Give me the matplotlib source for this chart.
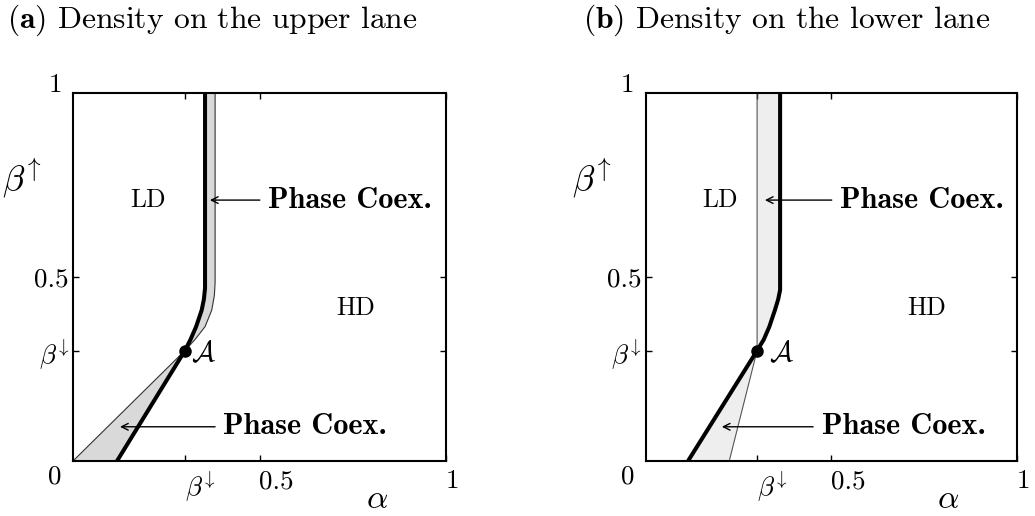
import numpy as np
import matplotlib
matplotlib.use("Agg")
import matplotlib.pyplot as plt

plt.rcParams['font.family'] = 'serif'
plt.rcParams['font.serif'] = ['cmr10']
plt.rcParams['mathtext.fontset'] = 'cm'
plt.rcParams['axes.formatter.use_mathtext'] = True

# ---- data ----
beta_down = 0.3
# panel (a): upper lane
thick_a_x = [0.118, 0.300, 0.315, 0.330, 0.345, 0.351, 0.354, 0.354]
thick_a_y = [0.000, 0.300, 0.330, 0.365, 0.410, 0.440, 0.470, 1.000]
thin_a_x = [0.000, 0.300, 0.327, 0.354, 0.372, 0.379, 0.381, 0.381]
thin_a_y = [0.000, 0.300, 0.330, 0.365, 0.410, 0.450, 0.485, 1.000]
# panel (b): lower lane
thick_b_x = [0.114, 0.300, 0.318, 0.333, 0.348, 0.357, 0.362, 0.362]
thick_b_y = [0.000, 0.300, 0.330, 0.365, 0.410, 0.440, 0.465, 1.000]
thin_b_x = [0.225, 0.300, 0.300]
thin_b_y = [0.000, 0.300, 1.000]

titles = [r'$\mathbf{(a)}$ Density on the upper lane',
          r'$\mathbf{(b)}$ Density on the lower lane']
region_labels = ['LD', 'HD']
region_pos = [(0.20, 0.71), (0.757, 0.415)]
coex_label = 'Phase Coex.'
# (text_left_x, y, arrow_tail_x, arrow_head_x)
coex_a = [(0.523, 0.709, 0.501, 0.367), (0.403, 0.093, 0.381, 0.126)]
coex_b = [(0.523, 0.709, 0.501, 0.321), (0.474, 0.093, 0.451, 0.205)]
A_label_pos = [(0.351, 0.29), (0.367, 0.29)]
fill_colors = ['#d9d9d9', '#eeeeee']
thin_colors = ['#333333', '#555555']

fig = plt.figure(figsize=(10.35, 5.16), dpi=100)
W, H = 1035, 516
axes_px = [(73, 93, 446, 461), (645.7, 93, 1017, 461)]

panels = [
    (thick_a_x, thick_a_y, thin_a_x, thin_a_y, coex_a),
    (thick_b_x, thick_b_y, thin_b_x, thin_b_y, coex_b),
]
title_x = [7, 583]
ylab_x = [22, 592]

for i, (tx, ty, nx, ny, coex) in enumerate(panels):
    l, t, r, b = axes_px[i]
    ax = fig.add_axes([l / W, 1 - b / H, (r - l) / W, (b - t) / H])
    ax.set_xlim(0, 1)
    ax.set_ylim(0, 1)
    for s in ax.spines.values():
        s.set_linewidth(1.5)
    # fill between thick and thin boundaries
    px = np.concatenate([tx, nx[::-1]])
    py = np.concatenate([ty, ny[::-1]])
    ax.fill(px, py, color=fill_colors[i], lw=0, zorder=1)
    ax.plot(nx, ny, color=thin_colors[i], lw=0.8, zorder=2)
    ax.plot(tx, ty, color='black', lw=2.9, zorder=3, solid_capstyle='butt')
    ax.plot([beta_down], [beta_down], 'o', color='black', ms=8, zorder=4)
    ax.text(*A_label_pos[i], r'$\mathcal{A}$', fontsize=20.5, ha='center', va='center')

    for lab, pos in zip(region_labels, region_pos):
        ax.text(*pos, lab, fontsize=18.5, ha='center', va='center')
    for (xt, yt, x0, x1) in coex:
        ax.annotate('', xy=(x1, yt), xytext=(x0, yt),
                    arrowprops=dict(arrowstyle='->', lw=1.0, color='black',
                                    shrinkA=0, shrinkB=0, mutation_scale=12))
        ax.text(xt, yt, coex_label, fontsize=21.8, family='cmb10',
                ha='left', va='center')

    ax.set_xticks([beta_down, 0.5, 1.0])
    ax.set_xticklabels([r'$\beta^{\!\downarrow}$', '0.5', '1'], fontsize=19.5, ha='left')
    ax.set_yticks([beta_down, 0.5])
    ax.set_yticklabels([r'$\beta^{\!\downarrow}$', '0.5'], fontsize=19.5)
    ax.tick_params(direction='in', length=4, width=1, top=True, right=True,
                   labeltop=False, labelright=False)
    ax.tick_params(axis='x', pad=6)
    ax.tick_params(axis='y', pad=3)
    ax.text(-0.048, -0.043, '0', fontsize=19.5, ha='center', va='center',
            transform=ax.transAxes)
    ax.text(-0.048, 1.022, '1', fontsize=19.5, ha='center', va='center',
            transform=ax.transAxes)
    ax.text(0.815, -0.105, r'$\alpha$', fontsize=24, ha='center', va='center',
            transform=ax.transAxes)
    fig.text(ylab_x[i] / W, 1 - 178 / H, r'$\beta^{\!\uparrow}$', fontsize=26,
             ha='center', va='center')
    fig.text(title_x[i] / W, 1 - 20 / H, titles[i], fontsize=22.7,
             ha='left', va='center')

fig.savefig('out.png', dpi=100)
